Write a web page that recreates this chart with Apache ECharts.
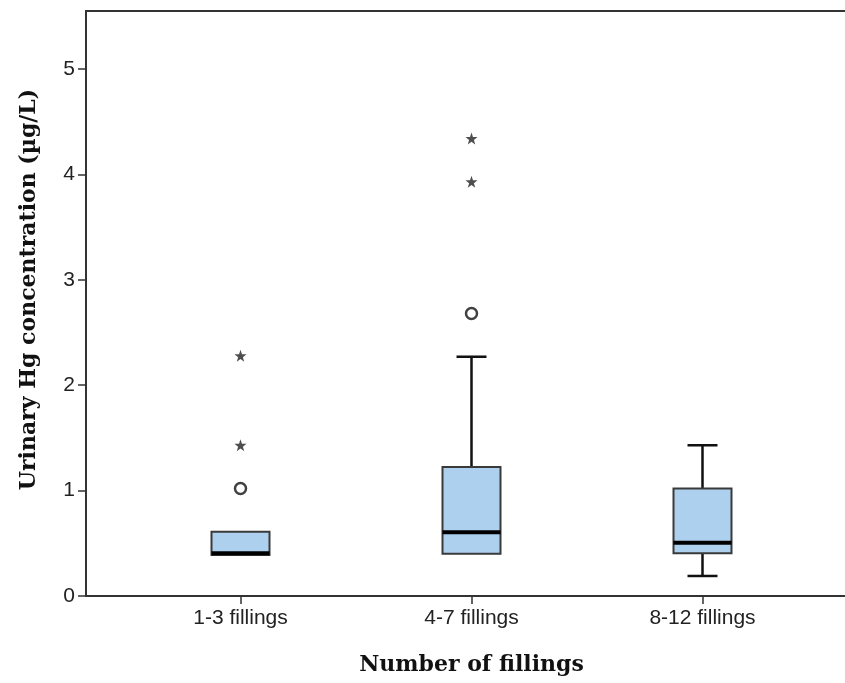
<!DOCTYPE html>
<html>
<head>
<meta charset="utf-8">
<script src="https://cdn.jsdelivr.net/npm/echarts@6/dist/echarts.min.js"></script>
<style>
html,body{margin:0;padding:0;background:#fff;}
#chart{width:845px;height:683px;}
</style>
</head>
<body>
<div id="chart"></div>
<script>
// ---- data ----
var categories = ['1-3 fillings', '4-7 fillings', '8-12 fillings'];
// [lower whisker, Q1, median, Q3, upper whisker]
var boxStats = [
  [0.39, 0.39, 0.405, 0.61, 0.61],
  [0.40, 0.40, 0.605, 1.225, 2.27],
  [0.19, 0.405, 0.505, 1.02, 1.43]
];
// outliers: [category index, value]
var circleOutliers = [[0, 1.02], [1, 2.68]];
var starOutliers = [[0, 1.43], [0, 2.28], [1, 3.93], [1, 4.34]];
var yTicks = [0, 1, 2, 3, 4, 5];
var yMax = 5.55;

var STAR = 'path://M10 0 L12.35 6.76 L19.51 6.91 L13.8 11.24 L15.88 18.09 L10 14 L4.12 18.09 L6.2 11.24 L0.49 6.91 L7.65 6.76 Z';

var boxData = boxStats.map(function (s, i) { return [i].concat(s); });

var chart = echarts.init(document.getElementById('chart'));
var axisColor = '#333';
var tickFont = "'Liberation Sans Narrow', 'Liberation Sans', Arial, sans-serif";
var titleFont = "'DejaVu Serif', 'Liberation Serif', serif";
var option = {
  backgroundColor: '#fff',
  animation: false,
  grid: [
    { left: 86, right: 0, top: 11, bottom: 87 },
    { left: 125, right: 27, top: 11, bottom: 87 }
  ],
  xAxis: [
    { gridIndex: 0, type: 'value', min: 0, max: 1, position: 'bottom',
      axisLine: { show: true, lineStyle: { color: axisColor, width: 2 } },
      axisTick: { show: false }, axisLabel: { show: false }, splitLine: { show: false } },
    { gridIndex: 0, type: 'value', min: 0, max: 1, position: 'top',
      axisLine: { show: true, lineStyle: { color: axisColor, width: 2 } },
      axisTick: { show: false }, axisLabel: { show: false }, splitLine: { show: false } },
    { gridIndex: 1, type: 'category', data: categories, position: 'bottom',
      axisLine: { show: false },
      axisTick: { show: true, alignWithLabel: true, length: 8, lineStyle: { color: axisColor, width: 1.5 } },
      axisLabel: { color: '#222', fontFamily: tickFont, fontSize: 21, margin: 12 },
      name: 'Number of fillings', nameLocation: 'middle', nameGap: 58,
      nameTextStyle: { fontFamily: titleFont, fontWeight: 'bold', fontSize: 22, color: '#111' },
      splitLine: { show: false } }
  ],
  yAxis: [
    { gridIndex: 0, type: 'value', min: 0, max: yMax,
      axisLine: { show: true, lineStyle: { color: axisColor, width: 2 } },
      axisTick: { show: true, customValues: yTicks, length: 8, lineStyle: { color: axisColor, width: 1.5 } },
      axisLabel: { show: true, customValues: yTicks, color: '#222', fontFamily: tickFont, fontSize: 21, margin: 11 },
      splitLine: { show: false },
      name: 'Urinary Hg concentration (\u00b5g/L)', nameLocation: 'middle', nameGap: 46,
      nameTextStyle: { fontFamily: titleFont, fontWeight: 'bold', fontSize: 22, color: '#111', padding: [0, 0, 0, 28] } },
    { gridIndex: 1, type: 'value', min: 0, max: yMax, show: false }
  ],
  series: [
    {
      type: 'custom',
      xAxisIndex: 2, yAxisIndex: 1,
      data: boxData,
      encode: { x: 0, y: [1, 2, 3, 4, 5] },
      renderItem: function (params, api) {
        var x = api.value(0);
        var lo = api.coord([x, api.value(1)]);
        var q1 = api.coord([x, api.value(2)]);
        var md = api.coord([x, api.value(3)]);
        var q3 = api.coord([x, api.value(4)]);
        var hi = api.coord([x, api.value(5)]);
        var half = 29, cap = 15;
        var cx = q1[0];
        var children = [];
        var ls = { stroke: '#111', lineWidth: 2.5 };
        if (hi[1] < q3[1] - 0.5) {
          children.push({ type: 'line', shape: { x1: cx, y1: q3[1], x2: cx, y2: hi[1] }, style: ls });
          children.push({ type: 'line', shape: { x1: cx - cap, y1: hi[1], x2: cx + cap, y2: hi[1] }, style: ls });
        }
        if (lo[1] > q1[1] + 0.5) {
          children.push({ type: 'line', shape: { x1: cx, y1: q1[1], x2: cx, y2: lo[1] }, style: ls });
          children.push({ type: 'line', shape: { x1: cx - cap, y1: lo[1], x2: cx + cap, y2: lo[1] }, style: ls });
        }
        children.push({ type: 'rect', shape: { x: cx - half, y: q3[1], width: half * 2, height: q1[1] - q3[1] },
          style: { fill: '#add0ef', stroke: '#3a3a3a', lineWidth: 2 } });
        children.push({ type: 'line', shape: { x1: cx - half, y1: md[1], x2: cx + half, y2: md[1] },
          style: { stroke: '#000', lineWidth: 4 } });
        return { type: 'group', children: children };
      },
      z: 2
    },
    {
      type: 'scatter', xAxisIndex: 2, yAxisIndex: 1,
      data: circleOutliers,
      symbol: 'circle', symbolSize: 11,
      itemStyle: { color: '#fff', borderColor: '#111', borderWidth: 2.5 },
      z: 3
    },
    {
      type: 'scatter', xAxisIndex: 2, yAxisIndex: 1,
      data: starOutliers,
      symbol: STAR, symbolSize: 12,
      itemStyle: { color: '#222' },
      z: 3
    }
  ]
};
chart.setOption(option);
</script>
</body>
</html>
